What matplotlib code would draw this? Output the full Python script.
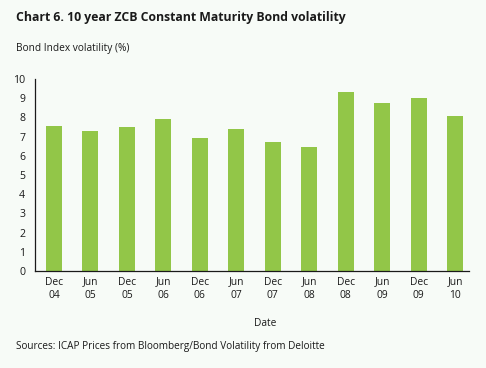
import matplotlib
matplotlib.use("Agg")
import matplotlib.pyplot as plt
import numpy as np

# data
months = ["Dec", "Jun", "Dec", "Jun", "Dec", "Jun", "Dec", "Jun", "Dec", "Jun", "Dec", "Jun"]
years = ["04", "05", "05", "06", "06", "07", "07", "08", "08", "09", "09", "10"]
volatility = [7.55, 7.29, 7.5, 7.92, 6.93, 7.4, 6.72, 6.46, 9.32, 8.75, 9.01, 8.07]

BG = "#f7fbf7"
BAR = "#92c648"
TXT = "#1a1a1a"

plt.rcParams["font.family"] = ["Open Sans", "DejaVu Sans"]

fig = plt.figure(figsize=(4.86, 3.68), dpi=100, facecolor=BG)
ax = fig.add_axes([0.072, 0.2636, 0.893, 0.5217], facecolor=BG)

xs = np.arange(len(volatility))
ax.bar(xs, volatility, width=0.44, color=BAR)

ax.set_xlim(-0.52, len(volatility) - 1 + 0.38)
ax.set_ylim(0, 10)
ax.set_yticks(range(0, 11))
ax.set_xticks(xs)
ax.set_xticklabels([f"{m}\n{y}" for m, y in zip(months, years)], fontsize=7.4, color=TXT,
                   linespacing=1.3)
ax.tick_params(axis="y", labelsize=7.6, colors=TXT, length=0, pad=7)
ax.tick_params(axis="x", length=0, pad=4)

for s in ["top", "right"]:
    ax.spines[s].set_visible(False)
for s in ["left", "bottom"]:
    ax.spines[s].set_color(TXT)
    ax.spines[s].set_linewidth(0.9)

fig.text(16 / 486, 1 - 17 / 368, "Chart 6. 10 year ZCB Constant Maturity Bond volatility",
         fontsize=8.8, fontweight="bold", color=TXT, va="center", ha="left")
fig.text(16 / 486, 1 - 48 / 368, "Bond Index volatility (%)",
         fontsize=7.3, color=TXT, va="center", ha="left")
fig.text(265 / 486, 1 - 324 / 368, "Date", fontsize=7.3, color=TXT, va="center", ha="center")
fig.text(16 / 486, 1 - 347 / 368, "Sources: ICAP Prices from Bloomberg/Bond Volatility from Deloitte",
         fontsize=7.2, color=TXT, va="center", ha="left")

fig.savefig("out.png", dpi=100, facecolor=BG)
